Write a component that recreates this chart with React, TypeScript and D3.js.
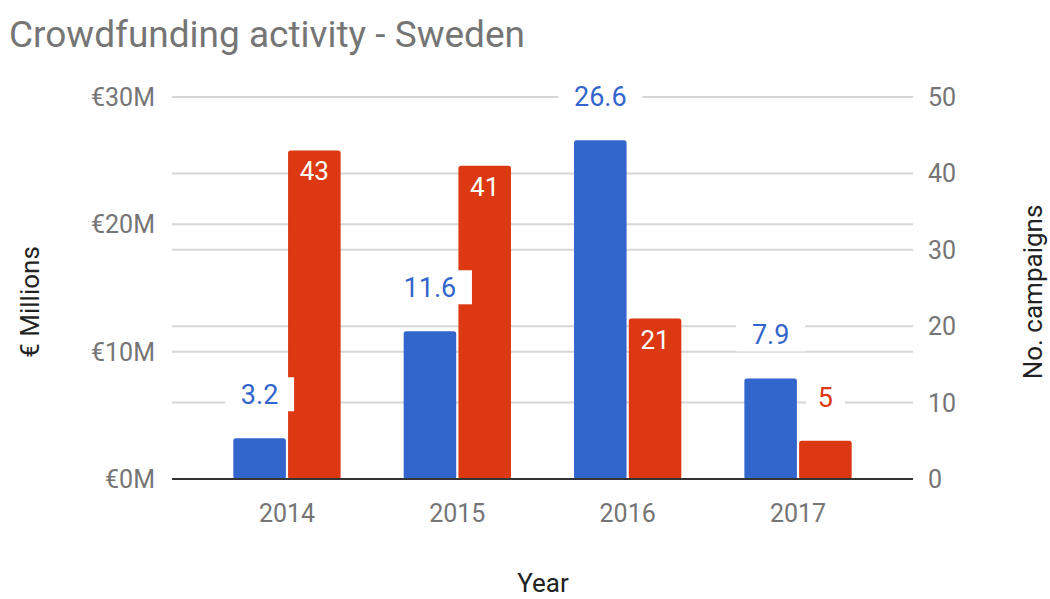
import React from 'react';
import * as d3 from 'd3';

const years = ['2014', '2015', '2016', '2017'];
const funding = [3.2, 11.6, 26.6, 7.9];
const campaigns = [43, 41, 21, 5];
const leftTicks = [0, 10, 20, 30];
const rightTicks = [0, 10, 20, 30, 40, 50];

const W = 1050, H = 599;
const BLUE = '#3366cc', RED = '#dc3912';
const FONT = 'Roboto, sans-serif';

export default function App() {
  const x0 = 172, x1 = 913, yBase = 479, yTop = 97;
  const x = d3.scaleBand<string>().domain(years).range([x0, x1]).paddingInner(0.37).paddingOuter(0.36);
  const xs = d3.scaleBand<string>().domain(['f', 'c']).range([0, x.bandwidth()]).paddingInner(0.04);
  const yL = d3.scaleLinear().domain([0, 30]).range([yBase, yTop]);
  const yR = d3.scaleLinear().domain([0, 50]).range([yBase, yTop]);
  const fmtL = (v: number) => `€${v}M`;

  const labelBox = (cx: number, cy: number, text: string, color: string, key: string) => {
    const w = text.length * 15 + 24;
    return (
      <g key={key}>
        <rect x={cx - w / 2} y={cy - 17} width={w} height={34} fill="#fff" />
        <text x={cx} y={cy + 10} textAnchor="middle" fontSize={27} fill={color} fontFamily={FONT}>{text}</text>
      </g>
    );
  };

  return (
    <svg width={W} height={H} style={{ position: 'absolute', left: 0, top: 0, background: '#fff' }}>
      <rect x={0} y={0} width={W} height={H} fill="#fff" />
      <text x={9} y={47} fontSize={37} fill="#757575" fontFamily={FONT}>Crowdfunding activity - Sweden</text>

      {rightTicks.filter(t => t > 0).map(t => (
        <line key={'gr' + t} x1={x0} x2={x1} y1={yR(t)} y2={yR(t)} stroke="#d6d6d6" strokeWidth={2} />
      ))}
      {leftTicks.filter(t => t > 0).map(t => (
        <line key={'gl' + t} x1={x0} x2={x1} y1={yL(t)} y2={yL(t)} stroke="#d6d6d6" strokeWidth={2} />
      ))}

      {leftTicks.map(t => (
        <text key={'lt' + t} x={155} y={yL(t) + 9} textAnchor="end" fontSize={25} fill="#757575" fontFamily={FONT}>{fmtL(t)}</text>
      ))}
      {rightTicks.map(t => (
        <text key={'rt' + t} x={928} y={yR(t) + 9} textAnchor="start" fontSize={25} fill="#757575" fontFamily={FONT}>{t}</text>
      ))}

      {years.map((yr, i) => {
        const bx = (x(yr) as number) + (xs('f') as number);
        const rx = (x(yr) as number) + (xs('c') as number);
        const bw = xs.bandwidth();
        const fy = yL(funding[i]);
        const cy = yR(campaigns[i]);
        return (
          <g key={yr}>
            <rect x={bx} y={fy} width={bw} height={yBase - fy} rx={2.5} fill={BLUE} />
            <rect x={rx} y={cy} width={bw} height={yBase - cy} rx={2.5} fill={RED} />
          </g>
        );
      })}

      <line x1={x0} x2={x1} y1={yBase} y2={yBase} stroke="#333" strokeWidth={2} />

      {years.map((yr, i) => {
        const bw = xs.bandwidth();
        const bcx = (x(yr) as number) + (xs('f') as number) + bw / 2;
        const rcx = (x(yr) as number) + (xs('c') as number) + bw / 2;
        const fy = yL(funding[i]);
        const cy = yR(campaigns[i]);
        const h = yBase - cy;
        return (
          <g key={'lab' + yr}>
            {labelBox(bcx, fy - 44, String(funding[i]), BLUE, 'b' + yr)}
            {h > 60 ? (
              <text x={rcx} y={cy + 30} textAnchor="middle" fontSize={26} fill="#fff" fontFamily={FONT}>{campaigns[i]}</text>
            ) : labelBox(rcx, cy - 44, String(campaigns[i]), RED, 'r' + yr)}
          </g>
        );
      })}

      {years.map(yr => (
        <text key={'xt' + yr} x={(x(yr) as number) + x.bandwidth() / 2} y={522} textAnchor="middle" fontSize={25} fill="#757575" fontFamily={FONT}>{yr}</text>
      ))}

      <text x={543} y={592} textAnchor="middle" fontSize={26} fill="#222" fontFamily={FONT}>Year</text>
      <text transform={`translate(39,302) rotate(-90)`} textAnchor="middle" fontSize={26} fill="#222" fontFamily={FONT}>€ Millions</text>
      <text transform={`translate(1042,292) rotate(-90)`} textAnchor="middle" fontSize={26} fill="#222" fontFamily={FONT}>No. campaigns</text>
    </svg>
  );
}
